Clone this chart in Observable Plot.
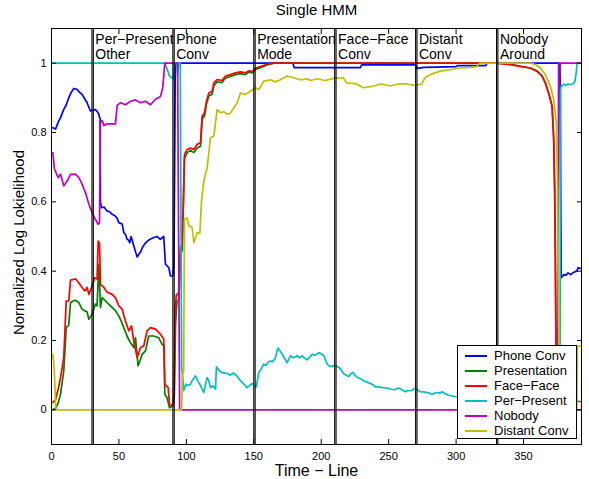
<!DOCTYPE html>
<html><head><meta charset="utf-8">
<script src="https://cdn.jsdelivr.net/npm/d3@7"></script>
<script src="https://cdn.jsdelivr.net/npm/@observablehq/plot@0.6"></script>
<style>
body{margin:0;background:#fff;font-family:"Liberation Sans",Arial,sans-serif;}
#wrap{position:relative;width:589px;height:479px;overflow:hidden;}
#legend{position:absolute;left:457px;top:345px;width:118px;height:92px;border:1px solid #000;background:#fff;font-size:13px;color:#000;box-sizing:content-box;}
#legend .row{position:absolute;left:0;height:15px;line-height:15px;white-space:nowrap;}
#legend .sw{position:absolute;left:7px;top:7px;width:22px;height:2px;}
#legend .lb{position:absolute;left:36px;top:0;}
</style></head><body><div id="wrap"></div>
<script>
const seriesNames = ["Phone Conv","Presentation","Face\u2212Face","Per\u2212Present","Nobody","Distant Conv"];
const seriesColors = ["#0000ff","#008000","#ff0000","#00bfbf","#bf00bf","#bfbf00"];

const phoneConv = [[1,0.814],[3,0.81],[5,0.83],[6.7,0.843],[9,0.866],[11,0.88],[12.8,0.9],[14.5,0.915],[16.5,0.927],[19,0.924],[21,0.915],[22.7,0.91],[24.5,0.898],[26.4,0.886],[28,0.87],[28.9,0.862],[30.5,0.865],[32.6,0.866],[34,0.86],[35.1,0.852],[36,0.84],[36.3,0.6],[37,0.583],[39,0.585],[41.3,0.573],[43,0.572],[45,0.564],[47,0.56],[48.6,0.553],[49.9,0.54],[52.4,0.536],[53.6,0.511],[55,0.505],[56,0.492],[57,0.49],[58,0.482],[59,0.5],[60.9,0.475],[62,0.46],[63.5,0.441],[65,0.45],[66,0.455],[67.2,0.467],[69,0.478],[70.9,0.486],[73,0.492],[75.8,0.497],[78.3,0.5],[80.7,0.492],[83.2,0.5],[84.5,0.42],[87,0.41],[88.2,0.386],[90,0.386],[90.8,0.42],[91.8,1.0],[179,1.0],[180,0.987],[229,0.987],[230,0.995],[270,0.995],[271,0.985],[276,0.988],[300,0.99],[301,0.993],[322,0.993],[323,1.0],[377,1.0],[378,0.381],[380,0.39],[381.5,0.388],[383,0.395],[385,0.39],[386.5,0.395],[388,0.398],[389.5,0.4],[390.5,0.41],[392,0.408]];

const presentation = [[1,0.0],[3.2,0.005],[5,0.02],[6.7,0.045],[9.1,0.112],[10.9,0.237],[12.8,0.244],[14.1,0.309],[16,0.314],[17.8,0.316],[20.3,0.309],[22.7,0.29],[24.7,0.286],[26.4,0.282],[27.7,0.261],[30.1,0.276],[32.6,0.305],[33.8,0.3],[35.1,0.42],[36.3,0.295],[37.6,0.324],[40.1,0.314],[43.7,0.3],[47.4,0.286],[49.9,0.271],[51.5,0.258],[53.6,0.237],[56,0.213],[58.5,0.194],[61,0.18],[62.3,0.208],[64.2,0.127],[65.5,0.14],[67.2,0.16],[69.7,0.17],[72.1,0.213],[75.8,0.213],[79.5,0.208],[82,0.189],[83.5,0.185],[84,0.045],[85.7,0.035],[87.5,0.006],[90,0.012],[91,0.03],[92,0.25],[93,0.31],[94.5,0.32],[95.6,0.45],[96.9,0.46],[97.8,0.6],[98.6,0.725],[100.6,0.742],[103.1,0.748],[105.6,0.742],[108,0.755],[110.5,0.76],[111.7,0.838],[113.5,0.848],[114.9,0.882],[116.7,0.906],[119.1,0.91],[120.4,0.935],[122.8,0.946],[126.5,0.944],[129,0.957],[132.7,0.962],[136.4,0.967],[140.1,0.97],[143.8,0.967],[146.3,0.974],[148.8,0.972],[151.2,0.982],[154.9,0.987],[159.9,0.995],[164.8,1.0],[330,1.0],[340,0.997],[347.7,0.991],[355,0.986],[360,0.977],[363.7,0.963],[366.2,0.943],[368.6,0.914],[371.2,0.876],[372.4,0.78],[373.1,0.636],[373.6,0.444],[374.1,0.184],[374.6,0.0],[392,0.0]];

const faceFace = [[1,0.021],[3,0.03],[5,0.06],[6.7,0.093],[9.1,0.151],[10.9,0.314],[12.8,0.314],[14.1,0.374],[16,0.376],[17.8,0.378],[20.3,0.366],[22.7,0.353],[24.7,0.343],[26.4,0.353],[27.7,0.333],[30.1,0.357],[32.1,0.381],[33.8,0.377],[34.6,0.487],[35.6,0.48],[36.3,0.362],[38.8,0.353],[41.3,0.339],[45,0.333],[47.4,0.324],[49.9,0.3],[52.3,0.291],[54.8,0.256],[57.3,0.228],[59.3,0.242],[61,0.199],[63.5,0.151],[66,0.18],[68.4,0.184],[70.9,0.228],[73.4,0.237],[77.1,0.233],[80.8,0.218],[83.2,0.204],[84,0.074],[86.5,0.064],[87.5,0.016],[90,0.012],[91,0.05],[91.5,0.27],[92.5,0.33],[94.5,0.34],[95.6,0.468],[96.9,0.477],[97.8,0.6],[98.6,0.737],[100.6,0.751],[103.1,0.755],[105.6,0.751],[108,0.766],[110.5,0.77],[111.7,0.847],[113.5,0.857],[114.9,0.89],[116.7,0.914],[119.1,0.919],[120.4,0.943],[122.8,0.953],[126.5,0.95],[129,0.963],[132.7,0.967],[136.4,0.972],[140.1,0.975],[143.8,0.972],[146.3,0.978],[148.8,0.976],[151.2,0.986],[154.9,0.99],[159.9,0.997],[164.8,1.0],[330,1.0],[340,0.996],[347.7,0.991],[355,0.986],[360,0.977],[363.7,0.963],[366.2,0.943],[368.6,0.914],[371.2,0.876],[372.4,0.78],[373.1,0.636],[373.6,0.444],[374.1,0.184],[374.8,0.024],[392,0.024]];

const perPresent = [[1,1.0],[84,1.0],[86,0.98],[87.5,0.962],[89.5,0.958],[90.5,0.955],[91.2,1.0],[92.8,1.0],[93.5,0.965],[94.3,1.0],[95.5,1.0],[96.5,0.12],[97.2,0.1],[98,0.055],[99.6,0.074],[101,0.07],[103,0.074],[104.5,0.085],[106.7,0.098],[109,0.08],[110.5,0.07],[112.9,0.05],[114,0.07],[115.4,0.093],[116.5,0.085],[117.9,0.064],[119.5,0.07],[121.6,0.06],[122.3,0.124],[124,0.115],[126,0.108],[128.5,0.106],[130.9,0.104],[132.5,0.1],[134.6,0.106],[137,0.1],[140.1,0.084],[142.5,0.075],[145,0.064],[146.8,0.07],[148.7,0.076],[150.3,0.07],[151.9,0.066],[153.7,0.108],[155.5,0.118],[157.4,0.132],[159,0.128],[160.5,0.137],[162.3,0.141],[164,0.139],[166,0.149],[167.8,0.178],[169.5,0.17],[171,0.161],[172.8,0.148],[174.7,0.136],[177.2,0.156],[179.5,0.15],[182.2,0.156],[184,0.15],[185.8,0.156],[187.5,0.15],[189.5,0.144],[191.5,0.152],[193.3,0.16],[195.8,0.158],[198.2,0.165],[200,0.162],[201.9,0.156],[203,0.145],[204.4,0.132],[206.8,0.124],[208.5,0.127],[210.5,0.127],[212.5,0.124],[214.2,0.118],[216.7,0.104],[218.5,0.1],[220.4,0.096],[222,0.104],[223.7,0.108],[225,0.1],[226.6,0.094],[229,0.09],[231.5,0.084],[234,0.08],[236.5,0.076],[238.5,0.072],[240.2,0.066],[243,0.066],[246.4,0.063],[249,0.063],[251.3,0.06],[254,0.058],[257.5,0.063],[260,0.058],[262.4,0.052],[264,0.055],[266.1,0.055],[268,0.058],[269.8,0.063],[271.5,0.057],[273.5,0.052],[276,0.052],[278.5,0.05],[280.5,0.048],[282.2,0.045],[284,0.048],[286,0.05],[288,0.048],[289.7,0.052],[292,0.046],[294.6,0.042],[297.5,0.04],[300.7,0.037],[377,0.02],[377.6,0.93],[380,0.94],[381.5,0.935],[383,0.94],[385,0.938],[386.5,0.94],[388,0.945],[389,0.97],[389.8,1.0],[392,1.0]];

const nobody = [[1,0.742],[2.2,0.694],[5,0.67],[6.7,0.68],[9.1,0.646],[11.6,0.66],[14.1,0.679],[17.8,0.68],[20.3,0.67],[22.7,0.651],[25.2,0.626],[27.7,0.593],[30.1,0.569],[32.6,0.549],[34.6,0.535],[35.6,0.54],[36.3,0.828],[37.5,0.835],[39,0.82],[41.3,0.825],[47.4,0.825],[48.7,0.878],[51.2,0.886],[54.9,0.88],[58.6,0.89],[62.3,0.894],[66,0.886],[69.7,0.89],[73.4,0.88],[77.1,0.896],[80.8,0.904],[82.5,0.929],[84,1.0],[93.5,1.0],[95,0.0],[375.4,0.0],[376,1.0],[392,1.0]];

const distantConv = [[1,0.16],[2,0.12],[3.2,0.0],[96.5,0.0],[97,0.103],[98,0.11],[98.6,0.55],[100.6,0.553],[102,0.53],[104.3,0.525],[105.6,0.482],[108,0.511],[110,0.51],[111.2,0.6],[112.9,0.66],[115.4,0.698],[117.9,0.785],[120.4,0.79],[122.8,0.866],[125.3,0.857],[127.8,0.86],[130.2,0.852],[132.7,0.856],[135.2,0.871],[137.7,0.885],[140.1,0.914],[143.8,0.91],[147.5,0.919],[151.2,0.929],[153.7,0.924],[157.4,0.948],[162.3,0.952],[166,0.946],[169.7,0.952],[174.7,0.963],[179.6,0.958],[184.5,0.952],[189.5,0.955],[192,0.95],[197,0.955],[203,0.95],[209,0.956],[216.4,0.958],[218.9,0.943],[226.3,0.94],[231.3,0.929],[238.7,0.934],[244.9,0.94],[251.1,0.934],[257.3,0.94],[263.4,0.94],[269.6,0.936],[274.5,0.94],[277,0.958],[280.7,0.967],[288.1,0.977],[295.5,0.981],[302.9,0.986],[310.3,0.988],[315.3,0.99],[317.7,1.0],[355,1.0],[358.8,0.996],[362.5,0.986],[366.2,0.967],[369.9,0.934],[372.4,0.895],[374.4,0.828],[375.3,0.636],[376.3,0.184],[376.8,0.0],[389.5,0.0],[390,0.184],[392,0.184]];

const boundaries = [30,31,90,91,150,151,210,211,270,271,330,331];
const segmentStarts = [31,91,151,211,271,331];
const segmentLabels = ["Per\u2212Present\nOther","Phone\nConv","Presentation\nMode","Face\u2212Face\nConv","Distant\nConv","Nobody\nAround"];
const xTicks = [0,50,100,150,200,250,300,350];
const yTicks = [0,0.2,0.4,0.6,0.8,1];
const titleText = "Single HMM";
const xLabel = "Time \u2212 Line";
const yLabel = "Normalized Log Lokielihood";

const allSeries = [phoneConv, presentation, faceFace, perPresent, nobody, distantConv];
const segs = segmentStarts.map((s, i) => ({x: s, label: segmentLabels[i]}));
const fmtY = d => String(+d.toFixed(1));

const chart = Plot.plot({
  width: 589, height: 479,
  marginTop: 28, marginBottom: 35, marginLeft: 51, marginRight: 8,
  style: {fontFamily: "'Liberation Sans', Arial, sans-serif", fontSize: "11px", background: "white", color: "black"},
  x: {domain: [0, 393]},
  y: {domain: [-0.1, 1.1]},
  marks: [
    ...allSeries.map((s, i) => Plot.line(s, {x: d => d[0], y: d => d[1], stroke: seriesColors[i], strokeWidth: 1.7})),
    Plot.ruleX(boundaries, {stroke: "black", strokeWidth: 1.1}),
    Plot.frame({stroke: "black", strokeWidth: 1}),
    Plot.axisX({ticks: xTicks, tickSize: -5, tickPadding: 12.5, tickFormat: d => String(d), label: null, fontSize: 11}),
    Plot.axisX({anchor: "top", ticks: xTicks, tickSize: -5, fill: "none", label: null}),
    Plot.axisY({ticks: yTicks, tickSize: -5, tickPadding: 10, tickFormat: fmtY, label: null, fontSize: 11}),
    Plot.axisY({anchor: "right", ticks: yTicks, tickSize: -5, fill: "none", label: null}),
    Plot.text(segs, {x: "x", text: "label", frameAnchor: "top", textAnchor: "start", lineAnchor: "top", dx: 2, dy: 5, fontSize: 14, lineHeight: 1.08, fill: "black"}),
    Plot.text([titleText], {frameAnchor: "top", textAnchor: "middle", lineAnchor: "middle", dy: -18, fontSize: 15, fill: "black"}),
    Plot.text([xLabel], {frameAnchor: "bottom", textAnchor: "middle", lineAnchor: "middle", dy: 26, fontSize: 16, fill: "black"}),
    Plot.text([yLabel], {frameAnchor: "left", textAnchor: "middle", lineAnchor: "middle", rotate: -90, dx: -32, dy: 6, fontSize: 15, fill: "black"})
  ]
});
const wrap = document.getElementById("wrap");
wrap.appendChild(chart);

const legend = document.createElement("div");
legend.id = "legend";
seriesNames.forEach((name, i) => {
  const row = document.createElement("div");
  row.className = "row";
  row.style.top = (2 + i * 14.9) + "px";
  row.style.width = "118px";
  const sw = document.createElement("div");
  sw.className = "sw";
  sw.style.background = seriesColors[i];
  const lb = document.createElement("div");
  lb.className = "lb";
  lb.textContent = name;
  row.appendChild(sw); row.appendChild(lb);
  legend.appendChild(row);
});
wrap.appendChild(legend);
</script>
</body></html>
